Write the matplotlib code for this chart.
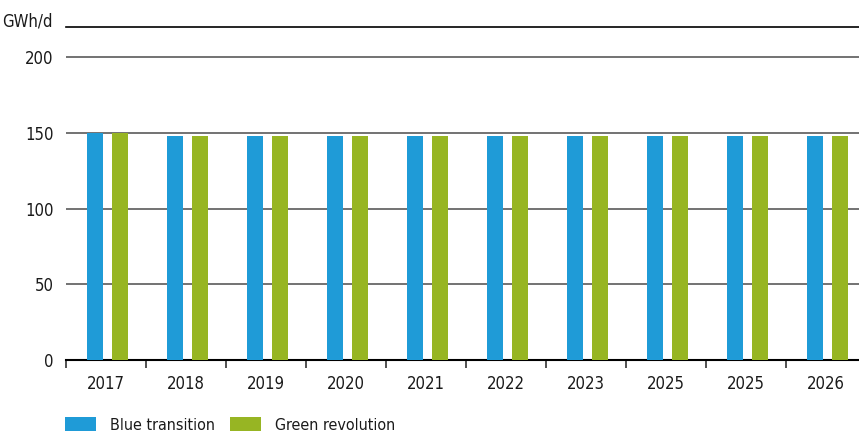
import numpy as np
import matplotlib.pyplot as plt
from matplotlib.patches import Patch

years = ["2017", "2018", "2019", "2020", "2021", "2022", "2023", "2025", "2025", "2026"]
blue_transition = [150, 148, 148, 148, 148, 148, 148, 148, 148, 148]
green_revolution = [150, 148, 148, 148, 148, 148, 148, 148, 148, 148]
y_ticks = [0, 50, 100, 150, 200]
unit_label = "GWh/d"

BLUE = "#1f9bd7"
GREEN = "#97b523"

plt.rcParams["font.family"] = ["DejaVu Sans"]
plt.rcParams["font.stretch"] = "condensed"
plt.rcParams["font.size"] = 12

W, H = 859, 434
fig = plt.figure(figsize=(W / 100, H / 100), dpi=100)
# category ticks every 80 px starting at x=66; the last slot runs past the right edge
ax = fig.add_axes([66 / W, (H - 360) / H, 800 / W, 333 / H])

x = np.arange(len(years))
width = 0.209
offset = 0.156
ax.bar(x - offset + 0.02, blue_transition, width, color=BLUE, zorder=3)
ax.bar(x + offset + 0.02, green_revolution, width, color=GREEN, zorder=3)

ax.set_xlim(-0.5, len(years) - 0.5)
ax.set_ylim(0, 220)

for t in y_ticks[1:]:
    ax.axhline(t, color="#5a5a5a", lw=1.2, zorder=1)

for side in ["left", "right"]:
    ax.spines[side].set_visible(False)
ax.spines["top"].set_color("black")
ax.spines["top"].set_linewidth(1.2)
ax.spines["bottom"].set_color("black")
ax.spines["bottom"].set_linewidth(1.5)

ax.set_yticks(y_ticks)
ax.tick_params(axis="y", length=0, pad=9, colors="#1a1a1a")

ax.set_xticks(x)
ax.set_xticklabels(years)
ax.tick_params(axis="x", which="major", length=0, pad=11, colors="#1a1a1a")
ax.set_xticks(np.arange(len(years) + 1) - 0.5, minor=True)
ax.tick_params(axis="x", which="minor", length=6, width=1.2, color="#333333")

fig.text(53 / W, (H - 22) / H, unit_label, ha="right", va="center", color="#1a1a1a")

handles = [Patch(facecolor=BLUE, label="Blue transition"),
           Patch(facecolor=GREEN, label="Green revolution")]
fig.legend(handles=handles, loc="center left", bbox_to_anchor=(65 / W, (H - 425) / H),
           ncol=2, frameon=False, borderpad=0, borderaxespad=0, fontsize=11.5,
           handlelength=1.95, handleheight=1.0, handletextpad=0.85,
           columnspacing=0.95, labelcolor="#1a1a1a")

fig.savefig("out.png", dpi=100)
